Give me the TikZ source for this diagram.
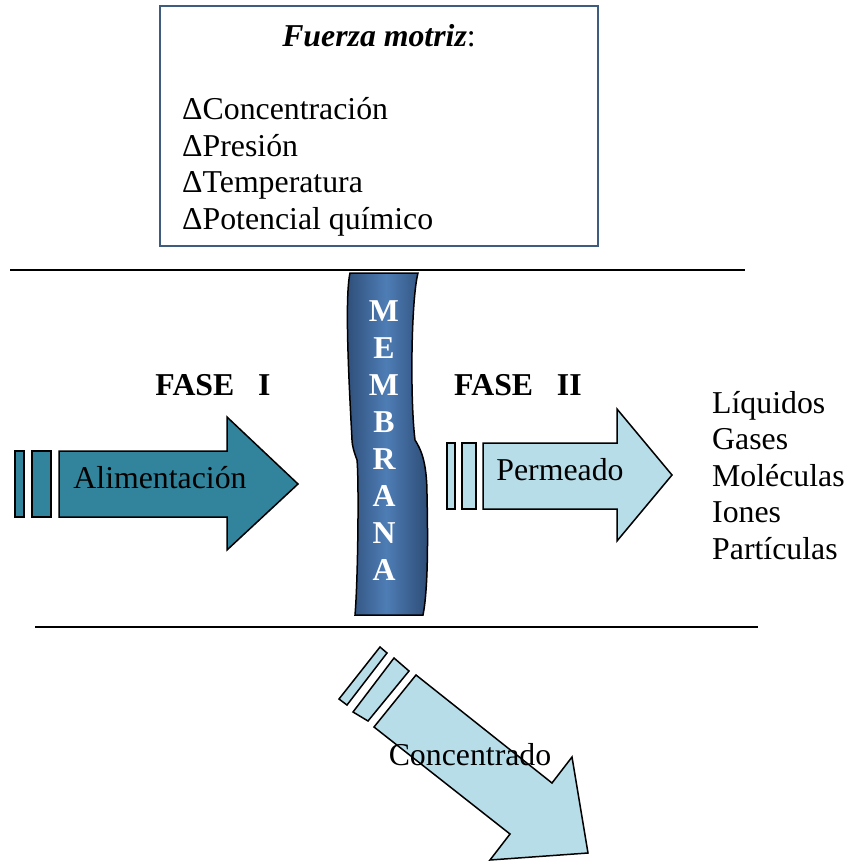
\documentclass[tikz,border=0pt]{standalone}
\usepackage{fontspec}
\setmainfont{Liberation Serif}
\usepackage{xcolor}

\definecolor{feedteal}{HTML}{31849B}
\definecolor{paleblue}{HTML}{B7DDE8}
\definecolor{memdark}{HTML}{2D4C76}
\definecolor{memlight}{HTML}{4E7DB5}
\definecolor{boxline}{HTML}{3E5C7E}

\begin{document}
\begin{tikzpicture}[x=1pt,y=-1pt]
\tikzset{every node/.style={inner sep=0pt,font=\fontsize{31.8}{36.5}\selectfont}}
\tikzset{txt/.style={anchor=base west}}
\tikzset{phase/.style={anchor=base,font=\fontsize{31.8}{36.5}\selectfont\bfseries}}
\tikzset{rule/.style={line width=1.5pt}}
\tikzset{feedbox/.style={draw,line width=1.5pt,fill=feedteal}}
\tikzset{palebox/.style={draw,line width=1.5pt,fill=paleblue}}

\useasboundingbox (0,0) rectangle (847,861);

% fuerza motriz
\draw[boxline,line width=1.5pt] (160,6) rectangle (598,246);
\node (fm) [anchor=base] at (379,47) {\textbf{\textit{Fuerza motriz}}:};
\node (dc) [txt] at (182,120) {ΔConcentración};
\node (dp) [txt] at (182,157) {ΔPresión};
\node (dt) [txt] at (182,193) {ΔTemperatura};
\node (dq) [txt] at (182,229) {ΔPotencial químico};

% limites de fase
\draw[rule] (10,270) -- (745,270);
\draw[rule] (35,627) -- (758,627);

% membrana
\draw[line width=1.5pt,left color=memdark,right color=memdark,middle color=memlight]
  (350,273) -- (418,273)
  .. controls (411,300) and (410,400) .. (415,440)
  .. controls (420,448) and (427,460) .. (427,495)
  .. controls (428,540) and (428,590) .. (423,615)
  -- (355,615)
  .. controls (358,580) and (359,480) .. (357,460)
  .. controls (354,452) and (352,445) .. (352,440)
  .. controls (350,400) and (344,300) .. (350,273) -- cycle;
\foreach \l [count=\i] in {M,E,M,B,R,A,N,A}
  \node (mem\i) [phase,text=white] at (384,{284+37*\i}) {\l};

\node (f1) [phase] at (213,395) {FASE\ \ \ I};
\node (f2) [phase] at (518,395) {FASE\ \ \ II};

% alimentacion
\draw[feedbox] (15,451) rectangle (24,517);
\draw[feedbox] (32,451) rectangle (51,517);
\draw[feedbox] (59,451) -- (227,451) -- (227,417) -- (298,484) -- (227,550) -- (227,517) -- (59,517) -- cycle;
\node (alim) [anchor=base] at (160,488) {Alimentación};

% permeado
\draw[palebox] (447,443) rectangle (455,509);
\draw[palebox] (462,443) rectangle (476,509);
\draw[palebox] (483,443) -- (617,443) -- (617,409) -- (672,475) -- (617,541) -- (617,509) -- (483,509) -- cycle;
\node (perm) [anchor=base] at (560,480) {Permeado};

\foreach \w [count=\i] in {Líquidos,Gases,Moléculas,Iones,Partículas}
  \node (sp\i) [txt] at (712,{376.5+36.5*\i}) {\w};

% concentrado
\draw[palebox] (339,699) -- (380,647) -- (387,653) -- (347,705) -- cycle;
\draw[palebox] (353,712) -- (394,658) -- (409,671) -- (368,721) -- cycle;
\draw[palebox] (374,727) -- (416,675) -- (552,783) -- (572,757) -- (588,853) -- (490,860) -- (510,834) -- cycle;
\node (conc) [anchor=base] at (470,765) {Concentrado};
\end{tikzpicture}
\end{document}
